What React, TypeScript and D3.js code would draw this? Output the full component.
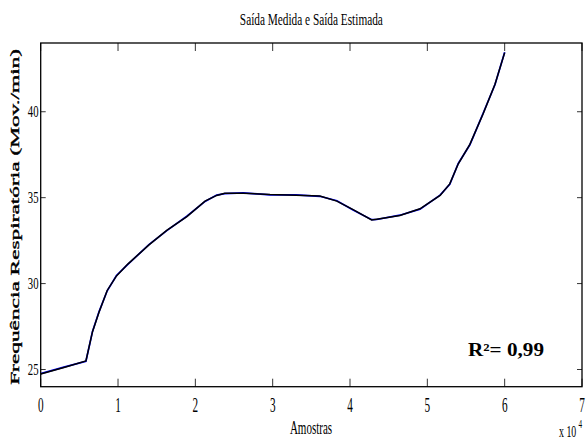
import * as d3 from 'd3';

// amostras (x 10^4)
const amostras = [
  0, 0.3, 0.585, 0.67, 0.755, 0.86, 0.98, 1.13, 1.4, 1.63, 1.89, 2.125, 2.276, 2.38, 2.62, 2.965, 3.3,
  3.61, 3.83, 4.04, 4.28, 4.345, 4.645, 4.905, 5.165, 5.29, 5.4, 5.55, 5.72, 5.875, 6.0,
];
const medida = [
  24.74, 25.12, 25.5, 27.2, 28.35, 29.6, 30.45, 31.15, 32.25, 33.1, 33.9, 34.8, 35.13, 35.26, 35.26,
  35.18, 35.14, 35.1, 34.8, 34.3, 33.7, 33.75, 33.96, 34.35, 35.13, 35.8, 36.97, 38.1, 39.87, 41.6, 43.44,
];
const estimada = [
  24.76, 25.14, 25.48, 27.22, 28.37, 29.58, 30.47, 31.13, 32.27, 33.08, 33.92, 34.78, 35.15, 35.24, 35.28,
  35.16, 35.16, 35.08, 34.82, 34.28, 33.72, 33.73, 33.98, 34.33, 35.15, 35.78, 36.99, 38.08, 39.89, 41.58, 43.46,
];
const xTicks = [0, 1, 2, 3, 4, 5, 6, 7];
const yTicks = [25, 30, 35, 40];

const W = 588;
const H = 444;
const left = 40.7;
const right = 582;
const top = 43;
const bottom = 386.7;
const font = '"Liberation Serif", "Times New Roman", serif';

export default function App() {
  const x = d3.scaleLinear().domain([0, 7]).range([left, right]);
  const y = d3.scaleLinear().domain([24, 44]).range([bottom, top]);
  const lineMed = d3
    .line<number>()
    .x((_, i) => x(amostras[i]))
    .y((d) => y(d));

  return (
    <svg
      width={W}
      height={H}
      style={{ position: 'absolute', left: 0, top: 0, background: '#fff' }}
      fontFamily={font}
    >
      <rect width={W} height={H} fill="#fff" />
      <text x={(left + right) / 2} y={25} fontSize={17} textAnchor="middle" textLength={143} lengthAdjust="spacingAndGlyphs">
        Saída Medida e Saída Estimada
      </text>

      {/* series */}
      <path d={lineMed(estimada) ?? ''} fill="none" stroke="#0000ff" strokeWidth={1.7} />
      <path d={lineMed(medida) ?? ''} fill="none" stroke="#000" strokeWidth={1.5} />

      {/* frame */}
      <rect x={left} y={top} width={right - left} height={bottom - top} fill="none" stroke="#000" strokeWidth={1.3} />

      {xTicks.map((t) => (
        <g key={'x' + t}>
          <line x1={x(t)} x2={x(t)} y1={bottom} y2={bottom - 8} stroke="#000" strokeWidth={0.8} />
          <line x1={x(t)} x2={x(t)} y1={top} y2={top + 8} stroke="#000" strokeWidth={0.8} />
          <text transform={`translate(${x(t)},411.5) scale(0.56,1)`} fontSize={20} textAnchor="middle">
            {t}
          </text>
        </g>
      ))}
      {yTicks.map((t) => (
        <g key={'y' + t}>
          <line x1={left} x2={left + 5} y1={y(t)} y2={y(t)} stroke="#000" strokeWidth={0.8} />
          <line x1={right} x2={right - 5} y1={y(t)} y2={y(t)} stroke="#000" strokeWidth={0.8} />
          <text transform={`translate(38.5,${y(t) + 5.5}) scale(0.63,1)`} fontSize={17} textAnchor="end">
            {t}
          </text>
        </g>
      ))}

      <text transform={`translate(311,433.5) scale(0.58,1)`} fontSize={19} textAnchor="middle">
        Amostras
      </text>
      <text transform={`translate(559,437) scale(0.58,1)`} fontSize={17}>
        x 10
      </text>
      <text transform={`translate(578.5,428) scale(0.6,1)`} fontSize={12}>
        4
      </text>

      <text
        transform={`translate(19,${(top + bottom) / 2 + 2}) rotate(-90)`}
        fontSize={12.5}
        stroke="#000"
        strokeWidth={0.35}
        textAnchor="middle"
        textLength={336}
        lengthAdjust="spacingAndGlyphs"
      >
        Frequência Respiratória (Mov./min)
      </text>

      <text x={468} y={355.5} fontSize={18} fontWeight="bold" textLength={76} lengthAdjust="spacingAndGlyphs">
        R²= 0,99
      </text>
    </svg>
  );
}
